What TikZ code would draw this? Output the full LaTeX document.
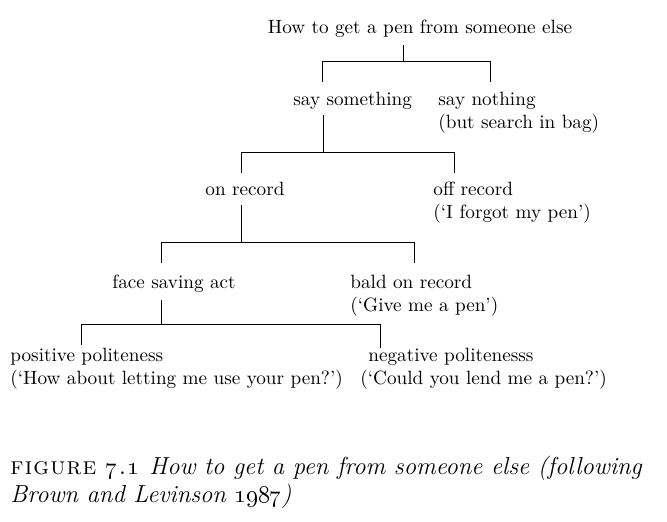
\documentclass[tikz,border=0pt]{standalone}
\newcommand{\spc}{\kern0.6pt}
\begin{document}
\begin{tikzpicture}[x=0.5pt,y=-0.5pt,
  lbl/.style={anchor=base west,inner sep=0pt,font=\fontsize{9.6}{11}\selectfont},
  captxt/.style={anchor=base west,inner sep=0pt,font=\fontsize{12.3}{14}\selectfont\itshape},
  br/.style={line width=0.5pt}]
\useasboundingbox (0,0) rectangle (667,522);
% nodes
\node[lbl,anchor=base] (ttl) at (420,34) {How to get a pen from someone else};
\node[lbl] (say) at (293,106) {say something};
\node[lbl] (nth) at (438,106) {say nothing};
\node[lbl] (nth2) at (438,129) {(but search in bag)};
\node[lbl] (on) at (205,196) {on record};
\node[lbl] (off) at (433,196) {off record};
\node[lbl] (off2) at (433,219) {(`I forgot my pen')};
\node[lbl] (fsa) at (112,289) {face saving act};
\node[lbl] (bald) at (350,289) {bald on record};
\node[lbl] (bald2) at (350,312) {(`Give me a pen')};
\node[lbl] (pos) at (10,362) {positive politeness};
\node[lbl] (pos2) at (10,385) {(`How about letting me use your pen?')};
\node[lbl] (neg) at (368,362) {negative politenesss};
\node[lbl] (neg2) at (360,385) {(`Could you lend me a pen?')};
\node[captxt] (cap1) at (10,474) {\textup{\textsc{f\spc i\spc g\spc u\spc r\spc e\ \oldstylenums{7}\spc.\spc\oldstylenums{1}}}\hspace{5pt}How to get a pen from someone else (following};
\node[captxt] (cap2) at (10,502) {Brown and Levinson \oldstylenums{1987})};
% junction coordinates
\coordinate (a0) at (403,45); \coordinate (a1) at (403,62);
\coordinate (a2) at (322,62); \coordinate (a3) at (490,62);
\coordinate (a4) at (322,82); \coordinate (a5) at (490,82);
\coordinate (b0) at (323,115); \coordinate (b1) at (323,153);
\coordinate (b2) at (241,153); \coordinate (b3) at (454,153);
\coordinate (b4) at (241,173); \coordinate (b5) at (454,173);
\coordinate (c0) at (241,205); \coordinate (c1) at (241,243);
\coordinate (c2) at (161,243); \coordinate (c3) at (414,243);
\coordinate (c4) at (161,263); \coordinate (c5) at (414,263);
\coordinate (d0) at (161,300); \coordinate (d1) at (161,325);
\coordinate (d2) at (81,325); \coordinate (d3) at (380,325);
\coordinate (d4) at (81,345); \coordinate (d5) at (380,348);
% connectors
\draw[br] (a0) -- (a1);
\draw[br] (a4) -- (a2) -- (a3) -- (a5);
\draw[br] (b0) -- (b1);
\draw[br] (b4) -- (b2) -- (b3) -- (b5);
\draw[br] (c0) -- (c1);
\draw[br] (c4) -- (c2) -- (c3) -- (c5);
\draw[br] (d0) -- (d1);
\draw[br] (d4) -- (d2) -- (d3) -- (d5);
\end{tikzpicture}
\end{document}
